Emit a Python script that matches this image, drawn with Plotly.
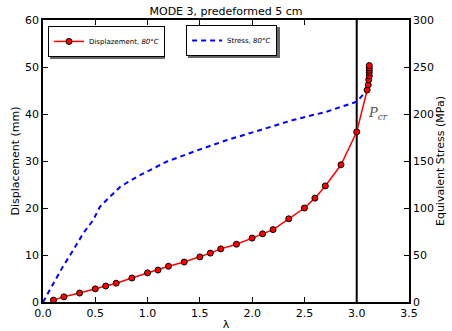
import plotly.graph_objects as go

# Displacement data
lam_disp = [0.1, 0.2, 0.35, 0.5, 0.6, 0.7, 0.85, 1.0, 1.1, 1.2, 1.35, 1.5, 1.6, 1.7,
            1.85, 2.0, 2.1, 2.2, 2.35, 2.5, 2.6, 2.7, 2.85, 3.0, 3.1, 3.11, 3.115,
            3.12, 3.12, 3.12, 3.12, 3.12]
disp = [0.4, 1.1, 1.9, 2.8, 3.4, 4.0, 5.1, 6.2, 6.8, 7.6, 8.5, 9.6, 10.4, 11.3,
        12.3, 13.6, 14.5, 15.4, 17.7, 20.0, 22.1, 24.7, 29.2, 36.2, 45.1, 46.2,
        47.3, 48.1, 48.8, 49.3, 49.8, 50.3]

# Stress data
lam_stress = [0.0, 0.1, 0.19, 0.29, 0.385, 0.48, 0.545, 0.64, 0.74, 0.9, 1.055,
              1.18, 1.44, 1.76, 2.08, 2.39, 2.71, 3.0, 3.1]
stress = [0.0, 19.9, 37.6, 55.3, 73.1, 87.2, 101.4, 112.0, 122.7, 133.3, 142.2,
          149.2, 159.9, 172.3, 183.0, 193.6, 202.4, 213.1, 225.5]

x_ticks = [0.0, 0.5, 1.0, 1.5, 2.0, 2.5, 3.0, 3.5]
y_ticks = [0, 10, 20, 30, 40, 50, 60]
y2_ticks = [0, 50, 100, 150, 200, 250, 300]

font = "DejaVu Sans"

fig = go.Figure()
fig.add_trace(go.Scatter(
    x=lam_stress, y=stress, mode="lines", yaxis="y",
    name="Stress, <i>80°C</i>", legend="legend2",
    line=dict(color="#0000ff", width=2, dash="5px,4px"),
))
fig.add_trace(go.Scatter(
    x=lam_disp, y=disp, mode="lines+markers", yaxis="y2",
    name="Displazement, <i>80°C</i>", legend="legend",
    line=dict(color="#ff0000", width=1.5),
    marker=dict(color="#ff0000", size=6, line=dict(color="black", width=1)),
))

fig.add_shape(type="line", xref="x", yref="paper", x0=3.0, x1=3.0, y0=0, y1=1,
              line=dict(color="black", width=2), layer="below")

fig.add_annotation(x=3.2, y=40.2, xref="x", yref="y2", showarrow=False,
                   text="<i>P<sub>cr</sub></i>",
                   font=dict(family="DejaVu Serif", size=13, color="#555555"))

# legend shadows
for (x0, x1, y0, y1) in [(0.0191, 0.3333, 0.8617, 0.9716), (0.396, 0.6475, 0.8652, 0.975)]:
    fig.add_shape(type="rect", xref="paper", yref="paper", x0=x0, x1=x1, y0=y0, y1=y1,
                  fillcolor="#666666", line=dict(width=0), layer="above")

axis_common = dict(showgrid=False, zeroline=False, showline=True, linecolor="black",
                   linewidth=1.5, ticks="inside", ticklen=5, tickcolor="black",
                   automargin=False,
                   tickfont=dict(family=font, size=11, color="black"))

fig.update_layout(
    width=452, height=331,
    margin=dict(l=43, r=43, t=20, b=29),
    paper_bgcolor="white", plot_bgcolor="white",
    title=dict(text="MODE 3, predeformed 5 cm", x=0.5, xanchor="center",
               y=0.965, yanchor="middle",
               font=dict(family=font, size=11, color="black")),
    xaxis=dict(range=[0, 3.5], tickvals=x_ticks, tickformat=".1f", mirror="ticks",
               title=dict(text="λ", font=dict(family=font, size=11, color="black"),
                          standoff=4),
               **axis_common),
    yaxis=dict(range=[0, 300], tickvals=y2_ticks, side="right",
               title=dict(text="Equivalent Stress (MPa)",
                          font=dict(family=font, size=11, color="black"), standoff=3),
               **axis_common),
    yaxis2=dict(range=[0, 60], tickvals=y_ticks, side="left", overlaying="y",
                title=dict(text="Displacement (mm)",
                           font=dict(family=font, size=11, color="black"), standoff=3),
                **axis_common),
    legend=dict(x=0.0137, y=0.979, xanchor="left", yanchor="top",
                bgcolor="white", bordercolor="black", borderwidth=1,
                font=dict(family=font, size=7, color="black"),
                itemwidth=30, tracegroupgap=0),
    legend2=dict(x=0.391, y=0.982, xanchor="left", yanchor="top",
                 bgcolor="white", bordercolor="black", borderwidth=1,
                 font=dict(family=font, size=7, color="black"),
                 itemwidth=30, tracegroupgap=0),
    showlegend=True,
)

fig.write_html("out.html", config={"displayModeBar": False},
               post_script="document.body.style.margin='0px';")
